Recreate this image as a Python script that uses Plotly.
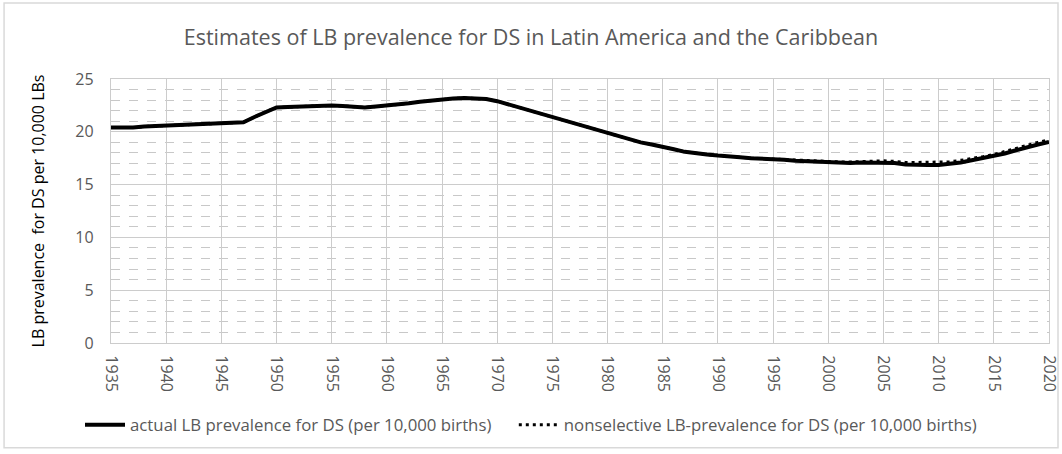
import plotly.graph_objects as go

years = list(range(1935, 2021))

actual = [
    20.4, 20.4, 20.4, 20.5, 20.55, 20.6, 20.65, 20.7, 20.75, 20.8,
    20.85, 20.85, 20.9, 21.4, 21.9, 22.3, 22.35, 22.4, 22.4, 22.45,
    22.5, 22.45, 22.35, 22.3, 22.4, 22.5, 22.55, 22.7, 22.85, 22.95,
    23.1, 23.15, 23.2, 23.15, 23.1, 22.9, 22.6, 22.3, 21.95, 21.65,
    21.4, 21.1, 20.8, 20.5, 20.2, 19.85, 19.55, 19.25, 19.0, 18.8,
    18.6, 18.35, 18.1, 17.95, 17.85, 17.75, 17.7, 17.6, 17.5, 17.45,
    17.45, 17.35, 17.25, 17.2, 17.15, 17.1, 17.05, 17.05, 17.1, 17.1,
    17.1, 17.05, 16.9, 16.85, 16.85, 16.85, 16.95, 17.1, 17.3, 17.5,
    17.7, 17.95, 18.25, 18.55, 18.8, 19.05,
]

nonselective = [
    20.4, 20.4, 20.4, 20.5, 20.55, 20.6, 20.65, 20.7, 20.75, 20.8,
    20.85, 20.85, 20.9, 21.4, 21.9, 22.3, 22.35, 22.4, 22.4, 22.45,
    22.5, 22.45, 22.35, 22.3, 22.4, 22.5, 22.55, 22.7, 22.85, 22.95,
    23.1, 23.15, 23.2, 23.15, 23.1, 22.9, 22.6, 22.3, 21.95, 21.65,
    21.4, 21.1, 20.8, 20.5, 20.2, 19.85, 19.55, 19.25, 19.0, 18.8,
    18.6, 18.35, 18.1, 17.95, 17.85, 17.75, 17.7, 17.6, 17.5, 17.45,
    17.45, 17.4, 17.3, 17.25, 17.2, 17.15, 17.15, 17.15, 17.2, 17.25,
    17.25, 17.2, 17.1, 17.1, 17.1, 17.1, 17.15, 17.3, 17.45, 17.65,
    17.85, 18.15, 18.45, 18.75, 19.0, 19.25,
]

x_ticks = list(range(1935, 2021, 5))

font_family = "Open Sans, Liberation Sans, sans-serif"
grey = "#595959"
grid = "#cccccc"

fig = go.Figure()
fig.add_trace(go.Scatter(
    x=years, y=actual, mode="lines",
    name="actual LB prevalence for DS (per 10,000 births)\u00a0\u00a0\u00a0\u00a0",
    line=dict(color="black", width=4),
))
fig.add_trace(go.Scatter(
    x=years, y=nonselective, mode="lines",
    name="nonselective LB-prevalence for DS (per 10,000 births)",
    line=dict(color="black", width=3, dash="3px,4px"),
))

fig.update_layout(
    width=1062, height=454,
    margin=dict(l=111, r=13, t=79, b=108),
    paper_bgcolor="white", plot_bgcolor="white",
    font=dict(family=font_family, color=grey),
    title=dict(
        text="Estimates of LB prevalence for DS in Latin America and the Caribbean",
        x=0.5, xref="container", xanchor="center",
        y=1 - 37 / 454, yref="container", yanchor="middle",
        font=dict(size=21.5, color=grey),
    ),
    showlegend=True,
    legend=dict(
        orientation="h", x=(531 - 111) / 938, xanchor="center",
        y=-0.31, yanchor="middle",
        font=dict(size=16.8, color=grey), itemwidth=40,
    ),
    shapes=[dict(
        type="rect", xref="paper", yref="paper",
        x0=-0.114, x1=1.0096, y0=-0.397, y1=1.288,
        line=dict(color="#d9d9d9", width=1.5),
    )],
)

fig.update_xaxes(
    range=[1935, 2020], tickvals=x_ticks, ticktext=[str(v) for v in x_ticks],
    tickangle=90, tickfont=dict(size=16, color=grey),
    showgrid=True, gridcolor=grid, gridwidth=1.3,
    showline=True, linecolor=grid, linewidth=1.3, mirror=True,
    ticks="", zeroline=False, ticklabelstandoff=8, automargin=False,
)
fig.update_yaxes(
    range=[0, 25], dtick=5, tickfont=dict(size=16, color=grey),
    showgrid=True, gridcolor=grid, gridwidth=1.3,
    minor=dict(dtick=1, showgrid=True, gridcolor="#c8c8c8", griddash="dash", gridwidth=1),
    showline=True, linecolor=grid, linewidth=1.3, mirror=True,
    ticks="", zeroline=False, ticklabelstandoff=13, automargin=False,
    title=dict(text="LB prevalence  for DS per 10,000 LBs",
               font=dict(size=16, color="black"), standoff=26),
)

# drop the default 8px body margin so the figure sits at the window origin
fig.write_html("out.html", config={"displayModeBar": False},
               post_script="document.body.style.margin='0';")
